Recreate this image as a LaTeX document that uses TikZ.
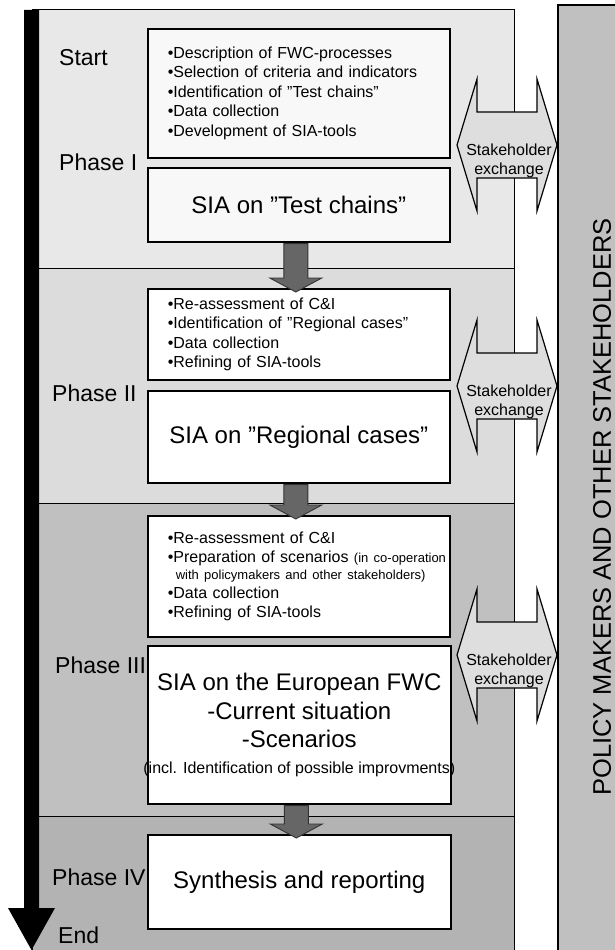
\documentclass[tikz,border=0pt]{standalone}
\usepackage{fontspec}
\setmainfont{Liberation Sans}
\usetikzlibrary{calc}

\definecolor{phaseA}{HTML}{E8E8E8}
\definecolor{phaseB}{HTML}{DCDCDC}
\definecolor{phaseC}{HTML}{C0C0C0}
\definecolor{phaseD}{HTML}{B3B3B3}
\definecolor{sidebox}{HTML}{C0C0C0}
\definecolor{xchg}{HTML}{DEDEDE}
\definecolor{connfill}{HTML}{666666}
\definecolor{paleboxfill}{HTML}{F8F8F8}

\tikzset{
  panel/.style={draw=black, line width=1.2pt, anchor=north west, inner sep=0pt,
                minimum width=482pt},
  taskbox/.style={draw=black, line width=1.6pt, fill=white, anchor=north west},
  listbox/.style={taskbox, inner xsep=20pt, inner ysep=0pt, text width=262pt,
                  align=left, font=\fontsize{16}{19.5}\selectfont},
  bigbox/.style={taskbox, inner sep=0pt, minimum width=302pt, align=center,
                 font=\fontsize{24}{28.5}\selectfont},
  phaselabel/.style={anchor=base west, inner sep=0pt, font=\fontsize{23}{27}\selectfont},
  conn/.style={draw=black!80, line width=0.9pt, fill=connfill, line join=miter},
  xarrow/.style={draw=black, line width=1.2pt, fill=xchg, line join=miter},
  xlabel/.style={align=center, inner sep=0pt, font=\fontsize{16}{19}\selectfont},
}

\begin{document}
\begin{tikzpicture}[x=1pt, y=-1pt]
\useasboundingbox (0,0) rectangle (615,950);

% phase panels
\node[panel, fill=phaseA, minimum height=259pt] (p1) at (32,9) {};
\node[panel, fill=phaseB, minimum height=235pt] (p2) at (32,268) {};
\node[panel, fill=phaseC, minimum height=313pt] (p3) at (32,503) {};
\node[panel, fill=phaseD, minimum height=140pt] (p4) at (32,816) {};

% side panel for the external actors
\node[anchor=north west, fill=sidebox, inner sep=0pt, minimum width=60pt,
      minimum height=950pt] (pm) at (558,5) {};
\draw[line width=1.2pt] (pm.north east) -- (pm.north west) -- (pm.south west);
\node[rotate=90, inner sep=0pt, font=\fontsize{25.5}{30}\selectfont] (pmtext) at (602,507)
  {POLICY MAKERS AND OTHER STAKEHOLDERS};

% time line
\coordinate (tstart) at (31.5,10);
\coordinate (tend) at (31.5,950);
\fill[black] ($(tstart)+(-7.5,0)$) -- ($(tend)+(-7.5,-42)$) -- ($(tend)+(-23.5,-42)$)
  -- (tend) -- ($(tend)+(23.5,-42)$) -- ($(tend)+(7.5,-42)$) -- ($(tstart)+(7.5,0)$) -- cycle;

% phase labels
\node[phaselabel] (lstart) at (59,66) {Start};
\node[phaselabel] (l1) at (59,170) {Phase I};
\node[phaselabel] (l2) at (52,401) {Phase II};
\node[phaselabel] (l3) at (55,673) {Phase III};
\node[phaselabel] (l4) at (52,885) {Phase IV};
\node[phaselabel] (lend) at (58,943) {End};

% work packages
\node[listbox, fill=paleboxfill, minimum height=129pt] (b1) at (147,28) {%
  •Description of FWC-processes\\
  •Selection of criteria and indicators\\
  •Identification of ”Test chains”\\
  •Data collection\\
  •Development of SIA-tools};
\node[bigbox, fill=paleboxfill, minimum height=74pt] (b2) at (147,167)
  {SIA on ”Test chains”};

\node[listbox, minimum height=91pt] (b3) at (147,288) {%
  •Re-assessment of C\&I\\
  •Identification of ”Regional cases”\\
  •Data collection\\
  •Refining of SIA-tools};
\node[bigbox, minimum height=92pt] (b4) at (147,390)
  {SIA on ”Regional cases”};

\node[listbox, font=\fontsize{16}{19}\selectfont, minimum height=121pt] (b5) at (147,515) {%
  •Re-assessment of C\&I\\
  \mbox{•Preparation of scenarios {\fontsize{13}{15}\selectfont(in co-operation}}\\[-1.5pt]
  \mbox{\hspace*{8pt}\fontsize{13}{15}\selectfont with policymakers and other stakeholders)}\\[-0.5pt]
  •Data collection\\
  •Refining of SIA-tools};
\node[bigbox, minimum width=303pt, minimum height=158pt] (b6) at (147,645) {%
  SIA on the European FWC\\
  -Current situation\\
  -Scenarios\\[-3pt]
  \makebox[0pt]{\fontsize{16}{19}\selectfont (incl. Identification of possible improvments)}};

\node[bigbox, minimum width=303pt, minimum height=94pt] (b7) at (147,834)
  {Synthesis and reporting};

% flow between the work packages
\foreach \u/\v in {b2/b3, b4/b5, b6/b7} {
  \draw[conn] ($(\u.south)+(-15,1)$) -- ($(\v.north)+(-15,-10)$) -- ($(\v.north)+(-29,-10)$)
    -- ($(\v.north)+(-3,4)$) -- ($(\v.north)+(23,-10)$) -- ($(\v.north)+(9,-10)$)
    -- ($(\u.south)+(9,1)$) -- cycle;
}

% stakeholder exchange arrows
\foreach \n/\cy in {x1/145, x2/386, x3/655} {
  \coordinate (\n) at (507,\cy);
  \draw[xarrow] ($(\n)+(-50,0)$) -- ($(\n)+(-30,-66)$) -- ($(\n)+(-30,-33)$)
    -- ($(\n)+(30,-33)$) -- ($(\n)+(30,-66)$) -- ($(\n)+(50,0)$)
    -- ($(\n)+(30,66)$) -- ($(\n)+(30,33)$) -- ($(\n)+(-30,33)$)
    -- ($(\n)+(-30,66)$) -- cycle;
  \node[xlabel] (\n t) at ($(\n)+(2,16)$) {Stakeholder\\exchange};
}
\end{tikzpicture}
\end{document}
